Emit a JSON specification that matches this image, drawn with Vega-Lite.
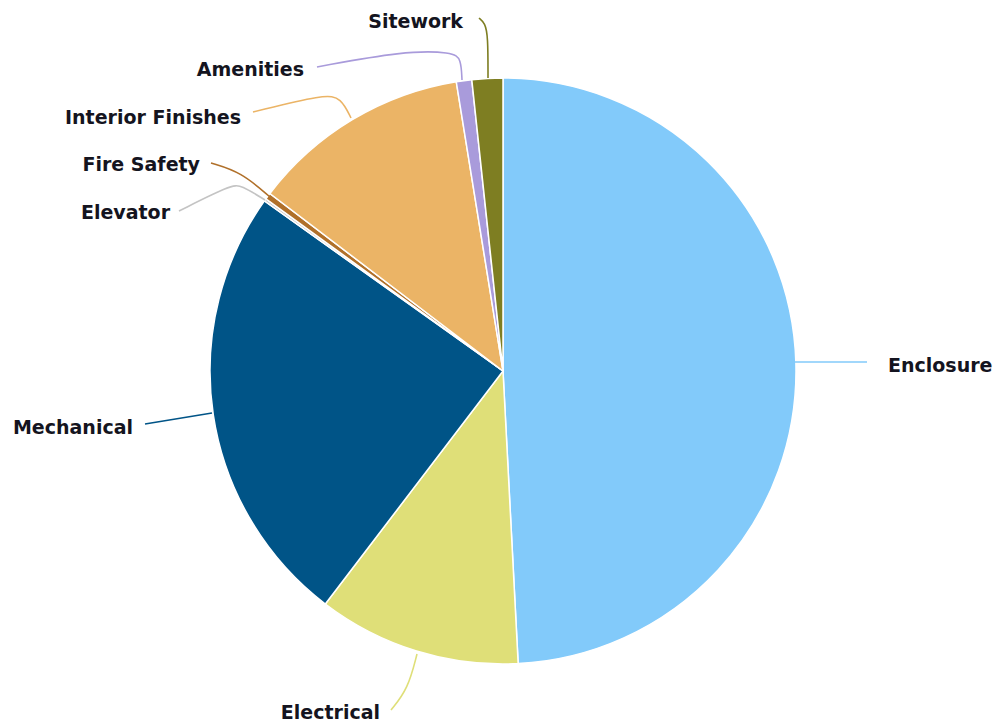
{
  "$schema": "https://vega.github.io/schema/vega-lite/v6.json",
  "width": 999,
  "height": 728,
  "padding": 0,
  "autosize": {"type": "none"},
  "background": "white",
  "config": {"view": {"stroke": null}},
  "layer": [
    {
      "data": {"values": [
        {"idx": 1, "cat": "Enclosure", "value": 49.2},
        {"idx": 2, "cat": "Electrical", "value": 11.2},
        {"idx": 3, "cat": "Mechanical", "value": 24.5},
        {"idx": 4, "cat": "Elevator", "value": 0.14},
        {"idx": 5, "cat": "Fire Safety", "value": 0.36},
        {"idx": 6, "cat": "Interior Finishes", "value": 12.1},
        {"idx": 7, "cat": "Amenities", "value": 0.85},
        {"idx": 8, "cat": "Sitework", "value": 1.7}
      ]},
      "mark": {"type": "arc", "radius": 293, "stroke": "white", "strokeWidth": 1.5},
      "encoding": {
        "theta": {"field": "value", "type": "quantitative", "stack": true},
        "order": {"field": "idx", "type": "quantitative"},
        "color": {"field": "cat", "type": "nominal", "legend": null,
          "scale": {
            "domain": ["Enclosure", "Electrical", "Mechanical", "Elevator", "Fire Safety", "Interior Finishes", "Amenities", "Sitework"],
            "range": ["#82CAFA", "#DFDF78", "#005487", "#C4C4C4", "#B0702A", "#EBB466", "#A99BDB", "#7E7E22"]
          }},
        "x": {"datum": 0, "type": "quantitative", "scale": {"domain": [-503, 496], "nice": false, "zero": false}, "axis": null},
        "y": {"datum": 0, "type": "quantitative", "scale": {"domain": [-357, 371], "nice": false, "zero": false}, "axis": null}
      }
    },
    {
      "data": {"values": [
        {"cat": "Sitework", "seq": 1, "px": -15, "py": 293},
        {"cat": "Sitework", "seq": 2, "px": -15, "py": 335},
        {"cat": "Sitework", "seq": 3, "px": -18, "py": 348},
        {"cat": "Sitework", "seq": 4, "px": -24, "py": 353},
        {"cat": "Amenities", "seq": 1, "px": -41, "py": 291},
        {"cat": "Amenities", "seq": 2, "px": -42, "py": 312},
        {"cat": "Amenities", "seq": 3, "px": -50, "py": 319},
        {"cat": "Amenities", "seq": 4, "px": -100, "py": 320},
        {"cat": "Amenities", "seq": 5, "px": -186, "py": 304},
        {"cat": "Interior Finishes", "seq": 1, "px": -152, "py": 253},
        {"cat": "Interior Finishes", "seq": 2, "px": -162, "py": 273},
        {"cat": "Interior Finishes", "seq": 3, "px": -178, "py": 277},
        {"cat": "Interior Finishes", "seq": 4, "px": -250, "py": 259},
        {"cat": "Fire Safety", "seq": 1, "px": -233, "py": 174},
        {"cat": "Fire Safety", "seq": 2, "px": -262, "py": 199},
        {"cat": "Fire Safety", "seq": 3, "px": -292, "py": 208},
        {"cat": "Elevator", "seq": 1, "px": -238, "py": 171},
        {"cat": "Elevator", "seq": 2, "px": -262, "py": 186},
        {"cat": "Elevator", "seq": 3, "px": -272, "py": 186},
        {"cat": "Elevator", "seq": 4, "px": -324, "py": 160},
        {"cat": "Mechanical", "seq": 1, "px": -291, "py": -42},
        {"cat": "Mechanical", "seq": 2, "px": -358, "py": -53},
        {"cat": "Electrical", "seq": 1, "px": -86, "py": -283},
        {"cat": "Electrical", "seq": 2, "px": -95, "py": -318},
        {"cat": "Electrical", "seq": 3, "px": -112, "py": -339},
        {"cat": "Enclosure", "seq": 1, "px": 292, "py": 9},
        {"cat": "Enclosure", "seq": 2, "px": 364, "py": 9}
      ]},
      "mark": {"type": "line", "interpolate": "basis", "strokeWidth": 1.6},
      "encoding": {
        "x": {"field": "px", "type": "quantitative"},
        "y": {"field": "py", "type": "quantitative"},
        "order": {"field": "seq", "type": "quantitative"},
        "detail": {"field": "cat"},
        "color": {"field": "cat", "type": "nominal", "legend": null}
      }
    },
    {
      "data": {"values": [
        {"label": "Sitework", "px": -40, "py": 349},
        {"label": "Amenities", "px": -199, "py": 301},
        {"label": "Interior Finishes", "px": -262, "py": 253},
        {"label": "Fire Safety", "px": -303, "py": 206},
        {"label": "Elevator", "px": -333, "py": 158},
        {"label": "Mechanical", "px": -370, "py": -57},
        {"label": "Electrical", "px": -123, "py": -342}
      ]},
      "mark": {"type": "text", "align": "right", "baseline": "middle", "font": "DejaVu Sans", "fontWeight": "bold", "fontSize": 19, "fill": "#141420"},
      "encoding": {
        "x": {"field": "px", "type": "quantitative"},
        "y": {"field": "py", "type": "quantitative"},
        "text": {"field": "label"}
      }
    },
    {
      "data": {"values": [
        {"label": "Enclosure", "px": 385, "py": 5}
      ]},
      "mark": {"type": "text", "align": "left", "baseline": "middle", "font": "DejaVu Sans", "fontWeight": "bold", "fontSize": 19, "fill": "#141420"},
      "encoding": {
        "x": {"field": "px", "type": "quantitative"},
        "y": {"field": "py", "type": "quantitative"},
        "text": {"field": "label"}
      }
    }
  ]
}
